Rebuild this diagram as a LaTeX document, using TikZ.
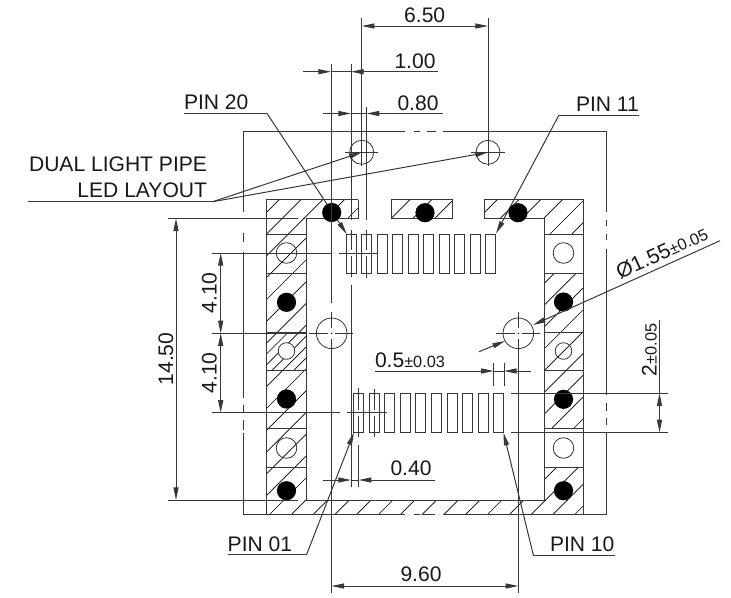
\documentclass[tikz,border=0pt]{standalone}
\usepackage{fontspec}
\setmainfont{Liberation Sans}
\usetikzlibrary{arrows.meta}
\newcommand{\bigtxt}{\fontsize{15.8pt}{18pt}\selectfont}
\newcommand{\smalltxt}{\fontsize{12.2pt}{14pt}\selectfont}
\tikzset{
  ln/.style={line width=0.75pt,draw=black!78},
  hat/.style={line width=0.5pt,draw=black},
  tip/.tip={Stealth[length=9.5pt,width=3.8pt,inset=0pt]},
  tipped/.style={ln,-tip},
  both/.style={ln,tip-tip},
  label/.style={inner sep=0pt,outer sep=0pt,font=\bigtxt,text=black!90},
  hole/.style={line width=0.55pt,draw=black!85},
  dot/.style={fill=black},
}
% hatch a rectangle: x1,y1,x2,y2,step,count
\newcommand{\hatchrect}[6]{%
  \begin{scope}
    \clip (#1,#2) rectangle (#3,#4);
    \foreach \k in {0,...,#6}{
      \pgfmathsetmacro{\c}{#5*\k+(784-21.8*15)}
      \draw[hat] ({\c-100},100) -- ({\c-700},700);
    }
  \end{scope}}
\begin{document}
\begin{tikzpicture}[x=0.75pt,y=-0.75pt]
\useasboundingbox (0,0) rectangle (731,597);
\fill[white] (0,0) rectangle (731,597);

% ---------- hatching ----------
\hatchrect{266.7}{199.5}{358}{218.5}{21.8}{40}
\hatchrect{391}{199.5}{452}{218.5}{21.8}{40}
\hatchrect{484}{199.5}{583}{218.5}{21.8}{40}
\hatchrect{266.7}{218.5}{306}{332}{21.8}{40}
\hatchrect{266.7}{370}{306}{500}{21.8}{40}
\hatchrect{266.7}{500}{583}{514}{21.8}{40}
\hatchrect{544}{218.5}{583}{234}{21.8}{40}
\hatchrect{544}{273}{583}{428}{21.8}{40}
\hatchrect{544}{467}{583}{500}{21.8}{40}
\hatchrect{266.7}{332}{306}{370}{10.9}{80}

% ---------- body outlines ----------
\draw[ln] (243,252) -- (243,398) (243,405) -- (243,413) (243,420) -- (243,430)
  (243,433) -- (243,514) -- (405,514);
\draw[ln] (243,233) -- (243,242);
\draw[ln] (243,212) -- (243,131) -- (405,131);
\draw[ln] (414,131) -- (420,131) (427,131) -- (436,131);
\draw[ln] (443,131) -- (606,131) -- (606,212);
\draw[ln] (606,220) -- (606,226) (606,234) -- (606,240);
\draw[ln] (606,249) -- (606,395) (606,403) -- (606,411) (606,418) -- (606,425);
\draw[ln] (606,433) -- (606,514) -- (444,514);
\draw[ln] (414,514) -- (420,514) (423,514) -- (435,514);

\draw[ln] (358,199.5) -- (266.7,199.5) -- (266.7,514) (358,199.5) -- (358,218.5);
\draw[ln] (306,218.5) -- (358,218.5);
\draw[ln] (391,218.5) rectangle (452,199.5);
\draw[ln] (484,218.5) -- (484,199.5) -- (583,199.5) -- (583,514);
\draw[ln] (484,218.5) -- (544,218.5) -- (544,500) -- (306,500) -- (306,218.5);

% ---------- side squares ----------
\foreach \ya/\yb in {234/273,332/370,428.7/467}{
  \draw[ln] (266.7,\ya) rectangle (306,\yb);
  \draw[ln] (544,\ya) rectangle (583,\yb);
}
\draw[hole] (286.5,253) circle (10.3);
\draw[hole,fill=white] (286.5,351) circle (8.3);
\draw[hole] (286.5,448) circle (10.3);
\draw[hole] (563.5,253) circle (10.3);
\draw[hole] (563.5,351) circle (8.3);
\draw[hole] (563.5,448) circle (10.3);

% ---------- pins ----------
\foreach \i in {0,...,9}{
  \draw[ln] ({346+15.55*\i},234) rectangle ++(10,39);
  \draw[ln] ({353.7+15.55*\i},393.3) rectangle ++(10,39);
}

% ---------- leaders under the dots ----------
\coordinate (p20) at (266.7,113);
\coordinate (p20tip) at (346.7,234);
\coordinate (p11) at (559,115);
\coordinate (p11tip) at (496,233.5);
\coordinate (p01) at (306.7,554.3);
\coordinate (p01tip) at (354,432.5);
\coordinate (p10) at (533.3,555);
\coordinate (p10tip) at (503.5,432.7);
\coordinate (led) at (212.7,201.7);
\coordinate (ledA) at (361.7,152.3);
\coordinate (ledB) at (488,152.3);
\draw[tipped] (p20) -- (p20tip);
\draw[tipped] (p11) -- (p11tip);
\draw[tipped] (p01) -- (p01tip);
\draw[tipped] (p10) -- (p10tip);
\draw[tipped] (led) -- (ledA);
\draw[tipped] (led) -- (ledB);

% ---------- black dots ----------
\foreach \x/\y in {331.7/212.5,425/212.7,518/212.7,
  286.5/302.3,286.5/399,286.5/490.7,
  563.5/302,563.5/399.3,563.5/490.7}{
  \fill[dot] (\x,\y) circle (9.6);
}

% ---------- holes with centre marks ----------
\draw[hole] (361.7,152.3) circle (12);
\draw[hole] (488,152.3) circle (12);
\draw[hole] (331.7,333.3) circle (15.3);
\draw[hole] (518.3,333.3) circle (15.3);
\draw[ln] (345,152.3) -- (378,152.3) (471,152.3) -- (505,152.3);
\draw[ln] (309,333.3) -- (328,333.3) (335,333.3) -- (353,333.3);
\draw[ln] (496,333.3) -- (515,333.3) (522,333.3) -- (540,333.3);
\fill (331.7,333.3) circle (0.8) (518.3,333.3) circle (0.8);

% ---------- extension lines, vertical ----------
\draw[ln] (331.5,64) -- (331.5,303) (331.5,312) -- (331.5,328) (331.5,339) -- (331.5,593);
\draw[ln] (518.3,312) -- (518.3,328) (518.3,339) -- (518.3,593);
\draw[ln] (351,64) -- (351,220) (351,230) -- (351,250) (351,256) -- (351,277);
\draw[ln] (351,285) -- (351,487);
\draw[ln] (366.7,107) -- (366.7,220) (366.7,230) -- (366.7,250) (366.7,256) -- (366.7,278);
\draw[ln] (361.7,18) -- (361.7,166);
\draw[ln] (488,18) -- (488,166);
\draw[ln] (358.7,388) -- (358.7,410) (358.7,416) -- (358.7,437) (358.7,445) -- (358.7,487);
\draw[ln] (374.3,389) -- (374.3,410) (374.3,416) -- (374.3,437);
\draw[ln] (493.7,363) -- (493.7,386) (504,363) -- (504,386);

% ---------- extension lines, horizontal ----------
\draw[ln] (168,218.4) -- (298,218.4);
\draw[ln] (168,500) -- (298,500);
\draw[ln] (212,253) -- (332,253) (339,253) -- (378,253);
\draw[ln] (212,333.3) -- (306,333.3);
\draw[ln] (212,412.7) -- (340,412.7) (347,412.7) -- (387,412.7);
\draw[ln] (511,393.3) -- (668,393.3);
\draw[ln] (511,432.3) -- (668,432.3);

% ---------- dimension arrows ----------
\draw[both] (361.7,26) -- (488,26);

\draw[tipped] (303,71.7) -- (331,71.7);
\draw[ln] (331,71.7) -- (351,71.7);
\draw[tipped] (438,71.7) -- (351,71.7);

\draw[tipped] (322.7,113.5) -- (351,113.5);
\draw[ln] (351,113.5) -- (366.7,113.5);
\draw[tipped] (442.7,113.5) -- (366.7,113.5);

\draw[tipped] (323,480) -- (351,480);
\draw[ln] (351,480) -- (358.7,480);
\draw[tipped] (435,480) -- (358.7,480);

\draw[tipped] (375,371) -- (493.7,371);
\draw[ln] (493.7,371) -- (504,371);
\draw[tipped] (531,371) -- (504,371);

\draw[both] (331.5,586) -- (518.3,586);
\draw[both] (176,218.4) -- (176,500);
\draw[both] (220.7,253) -- (220.7,333.3);
\draw[both] (220.7,333.3) -- (220.7,412.7);
\draw[ln] (659.5,320) -- (659.5,393.3);
\draw[both] (659.5,393.3) -- (659.5,432.3);

% diameter
\draw[tipped] (720,240.7) -- (533,325);
\draw[tipped] (479,351.7) -- (505,341);

% ---------- underlines of leader labels ----------
\draw[ln] (184,113) -- (p20);
\draw[ln] (638.5,115) -- (p11);
\draw[ln] (227.7,554.3) -- (p01);
\draw[ln] (615,555) -- (p10);
\draw[ln] (28,201.7) -- (led);

% ---------- labels ----------
\node[label,anchor=base] (t650) at (424.7,22) {6.50};
\node[label,anchor=base] (t100) at (415,68) {1.00};
\node[label,anchor=base] (t080) at (418,110) {0.80};
\node[label,anchor=base] (t040) at (411,475.5) {0.40};
\node[label,anchor=base] (t960) at (421,581.7) {9.60};
\node[label,anchor=base west] (tp20) at (184,109) {PIN 20};
\node[label,anchor=base west] (tp11) at (576,111.5) {PIN 11};
\node[label,anchor=base west] (tp01) at (227.7,551) {PIN 01};
\node[label,anchor=base west] (tp10) at (550,551) {PIN 10};
\node[label,anchor=base east] (tled1) at (207,171) {DUAL LIGHT PIPE};
\node[label,anchor=base east] (tled2) at (207,197) {LED LAYOUT};
\node[label,anchor=base,rotate=90] (t145) at (173,359) {14.50};
\node[label,anchor=base,rotate=90] (t41a) at (216.7,293) {4.10};
\node[label,anchor=base,rotate=90] (t41b) at (216.7,373) {4.10};
\node[label,anchor=base west] (t05) at (375,367) {0.5{\smalltxt ±0.03}};
\node[label,anchor=base west,rotate=90] (t2) at (656.5,376) {2{\smalltxt ±0.05}};
\node[label,anchor=base west,rotate=24.3] (td) at (620,279) {Ø1.55{\smalltxt ±0.05}};
\end{tikzpicture}
\end{document}
